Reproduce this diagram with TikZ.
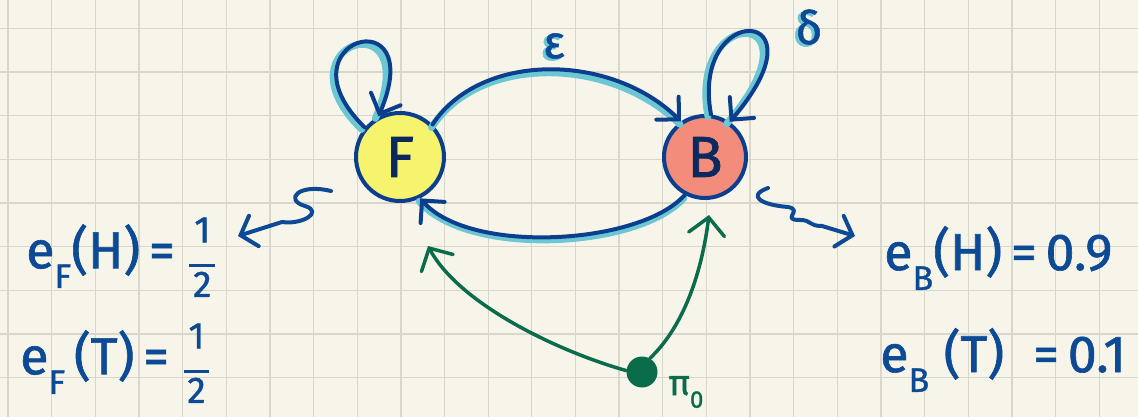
\documentclass[tikz,border=0pt]{standalone}
\usepackage{fontspec}
\setmainfont{Fira Sans}
\newfontfamily\hand[FakeBold=1.2]{Fira Sans}
\usetikzlibrary{arrows.meta}
\definecolor{bgc}{HTML}{F7F5EA}
\definecolor{gridc}{HTML}{D9D7CC}
\definecolor{navy}{HTML}{0B3F8E}
\definecolor{inkc}{HTML}{0D4A96}
\definecolor{darkink}{HTML}{0A2A5E}
\definecolor{tealc}{HTML}{6CC7D4}
\definecolor{yelc}{HTML}{F6F36D}
\definecolor{salc}{HTML}{F48C7C}
\definecolor{greenc}{HTML}{0A6C4B}
\newcommand{\hfrac}[2]{{\fontsize{37}{38}\selectfont\begin{tabular}[c]{@{}c@{}}#1\\[-0.36em]\rule{0.7em}{3pt}\\[-0.22em]#2\end{tabular}}}
\newcommand{\subs}[1]{\raisebox{-0.38em}{\fontsize{34}{36}\selectfont #1}}
\tikzset{
  statenode/.style={circle, draw=navy, line width=4pt, minimum size=88pt, inner sep=0pt,
     text=darkink, font=\hand\fontsize{58}{62}\selectfont},
  edge/.style={draw=navy, line width=4pt, line cap=round,
     -{Straight Barb[length=16pt,width=32pt,line cap=round]}},
  shadow/.style={draw=tealc, line width=7pt, line cap=round},
  greenedge/.style={draw=greenc, line width=3.5pt, line cap=round,
     -{Straight Barb[length=17pt,width=36pt,line cap=round]}},
  emis/.style={draw=inkc, line width=4pt, line cap=round, line join=round,
     -{Straight Barb[length=14pt,width=32pt,line cap=round]}},
  eqn/.style={text=inkc, font=\hand\fontsize{52}{58}\selectfont, inner sep=0pt},
  lbl/.style={text=inkc, font=\hand\fontsize{46}{50}\selectfont, inner sep=0pt},
  lblsh/.style={text=tealc, font=\hand\fontsize{46}{50}\selectfont, inner sep=0pt},
}
\begin{document}
\begin{tikzpicture}[x=1pt,y=-1pt]
\fill[bgc] (0,0) rectangle (1138,417);
\useasboundingbox (0,0) rectangle (1138,417);
\foreach \k in {0,...,25} \draw[gridc, line width=1.3pt] ({8+43.65*\k},0) -- ({8+43.65*\k},417);
\foreach \k in {0,...,8} \draw[gridc, line width=1.3pt] (0,{28.3+43.65*\k}) -- (1138,{28.3+43.65*\k});

% states
\node[statenode, fill=yelc] (F) at (400,157) {F};
\node[statenode, fill=salc, minimum size=82pt] (B) at (705,157) {B};

% initial distribution
\node[circle, fill=greenc, minimum size=31pt, inner sep=0pt] (pi) at (642,372) {};
\node[text=greenc, font=\hand\fontsize{36}{40}\selectfont, inner sep=0pt] (pil) at (686,392) {π\raisebox{-0.35em}{\fontsize{24}{26}\selectfont 0}};
\coordinate (gF) at (428,246);
\coordinate (gB) at (709,215);

% teal shadows
\begin{scope}[transform canvas={shift={(-1,3)}}]
\draw[shadow] (F.45) .. controls (480,52) and (610,52) .. (B.124);
\draw[shadow] (B.242) .. controls (640,245) and (470,255) .. (F.296);
\end{scope}
\begin{scope}[transform canvas={shift={(-3,2)}}]
\draw[shadow] (B.82) .. controls (690,0) and (830,5) .. (B.55);
\draw[shadow] (F.140) .. controls (275,40) and (430,-5) .. (F.118);
\end{scope}

% transitions
\draw[edge] (F.45) .. controls (480,52) and (610,52) .. (B.124);
\draw[edge] (B.242) .. controls (640,245) and (470,255) .. (F.296);
\draw[edge] (F.140) .. controls (275,40) and (430,-5) .. (F.118);
\draw[edge] (B.82) .. controls (690,0) and (830,5) .. (B.55);

% labels
\node[lblsh] at (551,48) {ε};
\node[lbl] (eps) at (554,46) {ε};
\node[lblsh] at (806,29) {δ};
\node[lbl] (del) at (809,27) {δ};

% green arrows
\draw[greenedge] (pi.175) .. controls (560,352) and (460,305) .. (gF);
\draw[greenedge] (pi.60) .. controls (685,325) and (702,270) .. (gB);

% emissions
\coordinate (sF) at (331,191);
\coordinate (tF) at (238,236);
\coordinate (sB) at (768,188);
\coordinate (tB) at (855,236);
\draw[emis] (sF) .. controls (298,183) and (284,200) .. (305,206)
   .. controls (324,212) and (302,225) .. (282,222) -- (tF);
\draw[emis] (sB) .. controls (746,196) and (762,205) .. (788,207)
   .. controls (804,210) and (780,220) .. (800,220)
   .. controls (812,220) and (808,226) .. (822,226) -- (tB);

% emission probabilities
\node[eqn, anchor=west] (eFH) at (26,262) {e\subs{F}(H)\,=\;\hfrac{1}{2}};
\node[eqn, anchor=west] (eFT) at (20,368) {e\subs{F}\,(T)\,=\;\hfrac{1}{2}};
\node[eqn, anchor=west] (eBH) at (884,258) {e\subs{B}(H)\,=\,0.9};
\node[eqn, anchor=west] (eBT) at (880,360) {e\subs{B}\;(T)\;\;=\,0.1};
\end{tikzpicture}
\end{document}
